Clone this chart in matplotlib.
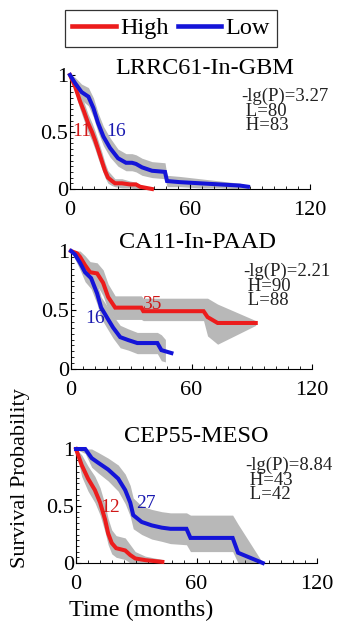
import matplotlib
matplotlib.use("Agg")
import matplotlib.pyplot as plt
from matplotlib.lines import Line2D
from matplotlib.ticker import MultipleLocator
import numpy as np

plt.rcParams["font.family"] = ["Liberation Serif", "DejaVu Serif"]

W, H = 341, 625
RED = "#ec1c1c"
BLUE = "#1414d8"
BAND = "#b8b8b8"

# ---- LRRC61-In-GBM ----
gbm_high_t = [0, 2.5, 5, 7, 9, 11, 12.5, 14, 16, 17.5, 19, 21, 22.5, 26, 30, 33, 35, 38, 41]
gbm_high_s = [1.0, 0.90, 0.77, 0.68, 0.58, 0.50, 0.43, 0.35, 0.24, 0.16, 0.10, 0.07, 0.05, 0.05, 0.04, 0.04, 0.02, 0.01, 0.0]
gbm_high_lo = [1.0, 0.85, 0.70, 0.60, 0.50, 0.42, 0.35, 0.27, 0.17, 0.10, 0.05, 0.03, 0.02, 0.01, 0.01, 0.0, 0.0, 0.0, 0.0]
gbm_high_hi = [1.0, 0.95, 0.84, 0.76, 0.66, 0.58, 0.51, 0.43, 0.32, 0.23, 0.16, 0.12, 0.09, 0.09, 0.07, 0.06, 0.04, 0.02, 0.0]

gbm_low_t = [0, 2.5, 5.8, 9.2, 11.7, 14, 16.7, 20, 24, 28, 31, 33, 36, 41, 47.5, 48.5, 55, 65, 75, 85, 89]
gbm_low_s = [1.0, 0.93, 0.85, 0.81, 0.71, 0.58, 0.46, 0.36, 0.27, 0.23, 0.23, 0.22, 0.19, 0.16, 0.15, 0.07, 0.06, 0.05, 0.04, 0.03, 0.02]
gbm_low_lo = [1.0, 0.88, 0.78, 0.73, 0.63, 0.50, 0.38, 0.28, 0.20, 0.16, 0.16, 0.15, 0.12, 0.10, 0.09, 0.02, 0.02, 0.01, 0.01, 0.0, 0.0]
gbm_low_hi = [1.0, 0.98, 0.92, 0.89, 0.80, 0.67, 0.55, 0.45, 0.35, 0.31, 0.31, 0.30, 0.27, 0.24, 0.23, 0.12, 0.11, 0.09, 0.07, 0.05, 0.03]

# ---- CA11-In-PAAD ----
paad_high_t = [0, 3, 4.5, 7, 9.5, 13, 16, 18.5, 22, 35, 36, 66, 68, 73, 92]
paad_high_s = [1.0, 0.98, 0.95, 0.88, 0.82, 0.81, 0.73, 0.61, 0.52, 0.52, 0.49, 0.49, 0.44, 0.39, 0.39]
paad_high_lo = [1.0, 0.96, 0.90, 0.80, 0.73, 0.71, 0.62, 0.50, 0.42, 0.42, 0.41, 0.41, 0.28, 0.21, 0.37]
paad_high_hi = [1.0, 1.0, 1.0, 0.96, 0.91, 0.90, 0.84, 0.72, 0.62, 0.62, 0.60, 0.60, 0.60, 0.55, 0.41]

paad_low_t = [0, 2, 4.5, 7, 10, 13, 15, 18.5, 21, 24.5, 28.5, 33, 43, 45, 47, 50]
paad_low_s = [1.0, 0.97, 0.90, 0.82, 0.77, 0.64, 0.52, 0.42, 0.35, 0.27, 0.245, 0.22, 0.22, 0.16, 0.15, 0.135]
paad_low_lo = [1.0, 0.93, 0.84, 0.74, 0.68, 0.55, 0.43, 0.33, 0.26, 0.18, 0.16, 0.13, 0.13, 0.07, 0.06, np.nan]
paad_low_hi = [1.0, 1.0, 0.95, 0.89, 0.85, 0.73, 0.61, 0.52, 0.45, 0.37, 0.34, 0.31, 0.31, 0.29, 0.25, np.nan]

# ---- CEP55-MESO ----
meso_high_t = [0, 2.8, 6, 9.4, 12, 14.5, 16, 17.8, 20, 24.5, 27, 29.5, 34.5, 43]
meso_high_s = [1.0, 0.86, 0.74, 0.64, 0.53, 0.38, 0.26, 0.175, 0.13, 0.11, 0.07, 0.04, 0.025, 0.01]
meso_high_lo = [1.0, 0.76, 0.63, 0.53, 0.42, 0.27, 0.16, 0.08, 0.05, 0.03, 0.0, 0.0, 0.0, 0.0]
meso_high_hi = [1.0, 0.95, 0.85, 0.76, 0.66, 0.51, 0.39, 0.29, 0.24, 0.22, 0.16, 0.10, 0.06, 0.03]

meso_low_t = [0, 4.6, 7.8, 11, 16, 21, 24.5, 27, 28.5, 32.7, 37.7, 42.7, 47, 55, 57, 78, 80.7, 93]
meso_low_s = [1.0, 1.0, 0.92, 0.88, 0.82, 0.74, 0.64, 0.53, 0.42, 0.36, 0.33, 0.31, 0.30, 0.30, 0.22, 0.22, 0.09, 0.0]
meso_low_lo = [1.0, 0.96, 0.84, 0.79, 0.72, 0.63, 0.52, 0.41, 0.30, 0.25, 0.21, 0.19, 0.17, 0.16, 0.10, 0.10, 0.0, 0.0]
meso_low_hi = [1.0, 1.0, 1.0, 0.97, 0.92, 0.86, 0.78, 0.68, 0.57, 0.50, 0.47, 0.45, 0.44, 0.44, 0.42, 0.42, 0.34, 0.0]

panels = [
    dict(title="LRRC61-In-GBM", box=(70, 75, 310, 189), title_xy=(205, 69),
         stats=["-lg(P)=3.27", " L=80", " H=83"], stats_xy=(241, 88),
         high=(gbm_high_t, gbm_high_s, gbm_high_lo, gbm_high_hi),
         low=(gbm_low_t, gbm_low_s, gbm_low_lo, gbm_low_hi),
         high_lab=("11", 6, 0.5), low_lab=("16", 23, 0.5)),
    dict(title="CA11-In-PAAD", box=(71, 251, 312, 369), title_xy=(197, 242),
         stats=["-lg(P)=2.21", " H=90", " L=88"], stats_xy=(243, 263),
         high=(paad_high_t, paad_high_s, paad_high_lo, paad_high_hi),
         low=(paad_low_t, paad_low_s, paad_low_lo, paad_low_hi),
         high_lab=("35", 40, 0.55), low_lab=("16", 12, 0.43)),
    dict(title="CEP55-MESO", box=(76, 449, 317, 563), title_xy=(196, 437),
         stats=["-lg(P)=8.84", " H=43", " L=42"], stats_xy=(245, 457),
         high=(meso_high_t, meso_high_s, meso_high_lo, meso_high_hi),
         low=(meso_low_t, meso_low_s, meso_low_lo, meso_low_hi),
         high_lab=("12", 17, 0.49), low_lab=("27", 35, 0.52)),
]

fig = plt.figure(figsize=(W / 100, H / 100), dpi=100)


def fx(px):
    return px / W


def fy(py):
    return 1 - py / H


for p in panels:
    x0, y0, x1, y1 = p["box"]
    ax = fig.add_axes([fx(x0), fy(y1), fx(x1) - fx(x0), fy(y0) - fy(y1)])
    ax.set_xlim(0, 120)
    ax.set_ylim(0, 1)
    for key in ("low", "high"):
        t, s, lo, hi = p[key]
        t = np.asarray(t, float)
        lo = np.asarray(lo, float)
        hi = np.asarray(hi, float)
        ok = ~np.isnan(lo)
        ax.fill_between(t[ok], lo[ok], hi[ok], color=BAND, lw=0, zorder=1)
    for key, col in (("high", RED), ("low", BLUE)):
        t, s, lo, hi = p[key]
        ax.plot(t, s, color=col, lw=2.9, zorder=3, clip_on=False,
                solid_joinstyle="miter")
    lab, lx, ly = p["high_lab"]
    ax.text(lx, ly, lab, color="#d01818", fontsize=14, ha="center", va="center", zorder=4)
    lab, lx, ly = p["low_lab"]
    ax.text(lx, ly, lab, color="#1a1ab0", fontsize=14, ha="center", va="center", zorder=4)

    ax.spines["top"].set_visible(False)
    ax.spines["right"].set_visible(False)
    ax.set_xticks([0, 60, 120])
    ax.set_xticklabels(["0", "60", "120"])
    ax.set_yticks([0, 0.5, 1])
    ax.set_yticklabels(["0", "0.5", "1"])
    ax.xaxis.set_minor_locator(MultipleLocator(6))
    ax.yaxis.set_minor_locator(MultipleLocator(0.05))
    ax.tick_params(which="both", direction="in", labelsize=16)
    ax.tick_params(which="major", length=3.5, width=0.8)
    ax.tick_params(which="minor", length=2, width=0.6)
    ax.tick_params(axis="y", pad=1.5)
    ax.tick_params(axis="x", pad=8.5)
    ax.set_facecolor("none")

    tx, ty = p["title_xy"]
    fig.text(fx(tx), fy(ty), p["title"], fontsize=17.5, ha="center", va="center")
    sx, sy = p["stats_xy"]
    fig.text(fx(sx), fy(sy), "\n".join(p["stats"]), fontsize=13.5,
             ha="left", va="top", multialignment="left", linespacing=0.8,
             color="#222222")

fig.text(fx(21), fy(478), "Survival Probability", rotation=90, fontsize=16,
         ha="center", va="center")
fig.text(fx(141), fy(610), "Time (months)", fontsize=17.5, ha="center", va="center")

handles = [Line2D([], [], color=RED, lw=3.3), Line2D([], [], color=BLUE, lw=3.3)]
leg = fig.legend(handles, ["High", "Low"], ncol=2, loc="upper left",
                 bbox_to_anchor=(fx(65), fy(10)), fontsize=17.5, frameon=True,
                 fancybox=False, edgecolor="black", handlelength=1.8,
                 handletextpad=0.17, columnspacing=0.37, borderpad=0.3,
                 borderaxespad=0)
leg.get_frame().set_linewidth(0.9)

fig.savefig("out.png", dpi=100)
